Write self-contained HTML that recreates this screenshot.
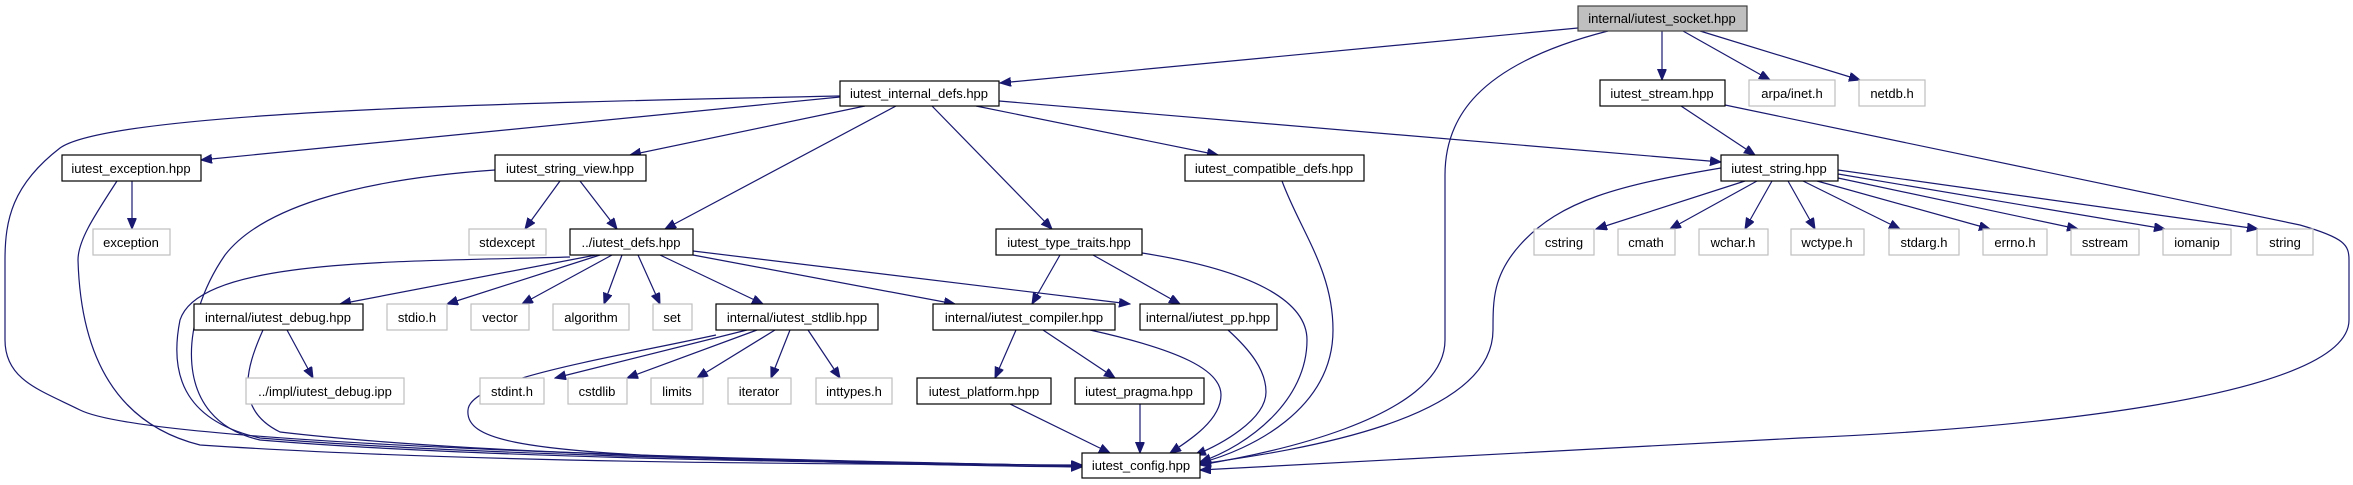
<!DOCTYPE html>
<html><head><meta charset="utf-8"><style>
html,body{margin:0;padding:0;background:#fff;}
svg{display:block;}
text{font-family:"Liberation Sans",Arial,sans-serif;font-size:13px;fill:#000;}
.n rect{fill:#fff;stroke:#000;stroke-width:1.2;}
.s rect{fill:#fff;stroke:#bfbfbf;stroke-width:1.2;}
.e{fill:none;stroke:#191970;stroke-width:1.2;}
</style></head><body>
<svg width="2353" height="485" viewBox="0 0 2353 485" xmlns="http://www.w3.org/2000/svg">
<defs>
<marker id="a" markerUnits="userSpaceOnUse" markerWidth="12" markerHeight="10" refX="11" refY="4.5" orient="auto">
<path d="M0,0 L11,4.5 L0,9 z" fill="#191970" stroke="#191970"/>
</marker>
</defs>
<g class="e" marker-end="url(#a)">
<path d="M1578,28 L1000,83"/>
<path d="M1608,31 C1475,65 1445,120 1445,175 L1445,340 C1445,420 1260,455 1200,465"/>
<path d="M1662,31 L1662,80"/>
<path d="M1683,31 L1770,80"/>
<path d="M1700,31 L1860,80"/>
<path d="M1681,106 L1755,155"/>
<path d="M1725,105 L2300,225 C2345,238 2349,245 2349,260 L2349,320 C2349,400 2000,430 1800,438 L1200,470"/>
<path d="M840,97 L201,160"/>
<path d="M865,106 L630,155"/>
<path d="M896,106 L665,229"/>
<path d="M932,106 L1052,229"/>
<path d="M976,106 L1218,155"/>
<path d="M999,101 L1721,162"/>
<path d="M840,96 C500,103 110,112 60,148 C12,185 5,220 5,260 L5,340 C5,380 40,390 80,410 C160,450 900,462 1082,466"/>
<path d="M132,181 L132,229"/>
<path d="M117,181 C95,215 78,240 78,260 C80,330 100,420 200,445 C500,465 900,464 1082,465"/>
<path d="M560,181 L525,229"/>
<path d="M580,181 L617,229"/>
<path d="M495,170 C350,180 260,210 225,255 C180,320 170,420 260,440 C500,460 900,463 1082,466"/>
<path d="M1282,181 C1300,230 1333,270 1333,330 C1333,410 1250,450 1200,463"/>
<path d="M1060,255 L1032,304"/>
<path d="M1093,255 L1180,304"/>
<path d="M1142,253 C1250,270 1307,300 1307,340 C1307,400 1250,445 1200,462"/>
<path d="M596,255 L340,304"/>
<path d="M600,255 L447,304"/>
<path d="M612,255 L522,304"/>
<path d="M622,255 L604,304"/>
<path d="M638,255 L660,304"/>
<path d="M660,255 L763,304"/>
<path d="M693,255 L955,304"/>
<path d="M693,251 L1130,304"/>
<path d="M570,257 C400,262 200,258 180,320 C170,370 180,420 260,438 C500,458 900,462 1082,466"/>
<path d="M1745,181 L1596,229"/>
<path d="M1757,181 L1670,229"/>
<path d="M1772,181 L1745,229"/>
<path d="M1788,181 L1815,229"/>
<path d="M1803,181 L1900,229"/>
<path d="M1817,181 L1990,229"/>
<path d="M1838,178 L2078,229"/>
<path d="M1838,174 L2165,229"/>
<path d="M1838,170 L2258,229"/>
<path d="M1721,168 C1620,185 1560,200 1520,245 C1493,275 1493,300 1493,330 C1493,420 1300,450 1200,464"/>
<path d="M287,330 L313,378"/>
<path d="M263,330 C245,370 235,410 280,432 C500,458 900,462 1082,466"/>
<path d="M747,330 L555,378"/>
<path d="M757,330 L627,378"/>
<path d="M775,330 L697,378"/>
<path d="M790,330 L771,378"/>
<path d="M808,330 L840,378"/>
<path d="M716,335 C600,360 470,380 468,410 C465,440 520,450 700,458 C900,465 1000,466 1082,467"/>
<path d="M1016,330 L995,378"/>
<path d="M1043,330 L1115,378"/>
<path d="M1090,330 C1180,350 1221,370 1221,395 C1221,420 1190,440 1170,453"/>
<path d="M1228,330 C1250,350 1266,370 1266,392 C1266,420 1220,445 1195,455"/>
<path d="M1010,404 L1110,453"/>
<path d="M1140,404 L1140,453"/>
</g>
<g text-anchor="middle">
<g><rect x="1578" y="6" width="169" height="25" fill="#bfbfbf" stroke="#404040" stroke-width="1.2"/><text x="1662" y="23">internal/iutest_socket.hpp</text></g>
<g class="n"><rect x="840" y="81" width="159" height="25"/><text x="919" y="98">iutest_internal_defs.hpp</text></g>
<g class="n"><rect x="1600" y="80" width="125" height="26"/><text x="1662" y="98">iutest_stream.hpp</text></g>
<g class="s"><rect x="1749" y="80" width="86" height="26"/><text x="1792" y="98">arpa/inet.h</text></g>
<g class="s"><rect x="1859" y="80" width="66" height="26"/><text x="1892" y="98">netdb.h</text></g>
<g class="n"><rect x="62" y="155" width="139" height="26"/><text x="131" y="173">iutest_exception.hpp</text></g>
<g class="n"><rect x="495" y="155" width="151" height="26"/><text x="570" y="173">iutest_string_view.hpp</text></g>
<g class="n"><rect x="1185" y="155" width="179" height="26"/><text x="1274" y="173">iutest_compatible_defs.hpp</text></g>
<g class="n"><rect x="1721" y="155" width="117" height="26"/><text x="1779" y="173">iutest_string.hpp</text></g>
<g class="s"><rect x="93" y="229" width="77" height="26"/><text x="131" y="247">exception</text></g>
<g class="s"><rect x="469" y="229" width="77" height="26"/><text x="507" y="247">stdexcept</text></g>
<g class="n"><rect x="570" y="229" width="123" height="26"/><text x="631" y="247">../iutest_defs.hpp</text></g>
<g class="n"><rect x="996" y="229" width="146" height="26"/><text x="1069" y="247">iutest_type_traits.hpp</text></g>
<g class="s"><rect x="1534" y="229" width="60" height="26"/><text x="1564" y="247">cstring</text></g>
<g class="s"><rect x="1618" y="229" width="57" height="26"/><text x="1646" y="247">cmath</text></g>
<g class="s"><rect x="1699" y="229" width="69" height="26"/><text x="1733" y="247">wchar.h</text></g>
<g class="s"><rect x="1791" y="229" width="73" height="26"/><text x="1827" y="247">wctype.h</text></g>
<g class="s"><rect x="1889" y="229" width="70" height="26"/><text x="1924" y="247">stdarg.h</text></g>
<g class="s"><rect x="1983" y="229" width="64" height="26"/><text x="2015" y="247">errno.h</text></g>
<g class="s"><rect x="2071" y="229" width="68" height="26"/><text x="2105" y="247">sstream</text></g>
<g class="s"><rect x="2163" y="229" width="68" height="26"/><text x="2197" y="247">iomanip</text></g>
<g class="s"><rect x="2257" y="229" width="56" height="26"/><text x="2285" y="247">string</text></g>
<g class="n"><rect x="194" y="304" width="169" height="26"/><text x="278" y="322">internal/iutest_debug.hpp</text></g>
<g class="s"><rect x="387" y="304" width="60" height="26"/><text x="417" y="322">stdio.h</text></g>
<g class="s"><rect x="471" y="304" width="58" height="26"/><text x="500" y="322">vector</text></g>
<g class="s"><rect x="553" y="304" width="76" height="26"/><text x="591" y="322">algorithm</text></g>
<g class="s"><rect x="653" y="304" width="39" height="26"/><text x="672" y="322">set</text></g>
<g class="n"><rect x="716" y="304" width="162" height="26"/><text x="797" y="322">internal/iutest_stdlib.hpp</text></g>
<g class="n"><rect x="933" y="304" width="182" height="26"/><text x="1024" y="322">internal/iutest_compiler.hpp</text></g>
<g class="n"><rect x="1140" y="304" width="137" height="26"/><text x="1208" y="322">internal/iutest_pp.hpp</text></g>
<g class="s"><rect x="246" y="378" width="158" height="26"/><text x="325" y="396">../impl/iutest_debug.ipp</text></g>
<g class="s"><rect x="480" y="378" width="64" height="26"/><text x="512" y="396">stdint.h</text></g>
<g class="s"><rect x="568" y="378" width="59" height="26"/><text x="597" y="396">cstdlib</text></g>
<g class="s"><rect x="651" y="378" width="52" height="26"/><text x="677" y="396">limits</text></g>
<g class="s"><rect x="728" y="378" width="63" height="26"/><text x="759" y="396">iterator</text></g>
<g class="s"><rect x="816" y="378" width="76" height="26"/><text x="854" y="396">inttypes.h</text></g>
<g class="n"><rect x="917" y="378" width="134" height="26"/><text x="984" y="396">iutest_platform.hpp</text></g>
<g class="n"><rect x="1075" y="378" width="129" height="26"/><text x="1139" y="396">iutest_pragma.hpp</text></g>
<g class="n"><rect x="1082" y="453" width="118" height="25"/><text x="1141" y="470">iutest_config.hpp</text></g>
</g>
</svg>
</body></html>
